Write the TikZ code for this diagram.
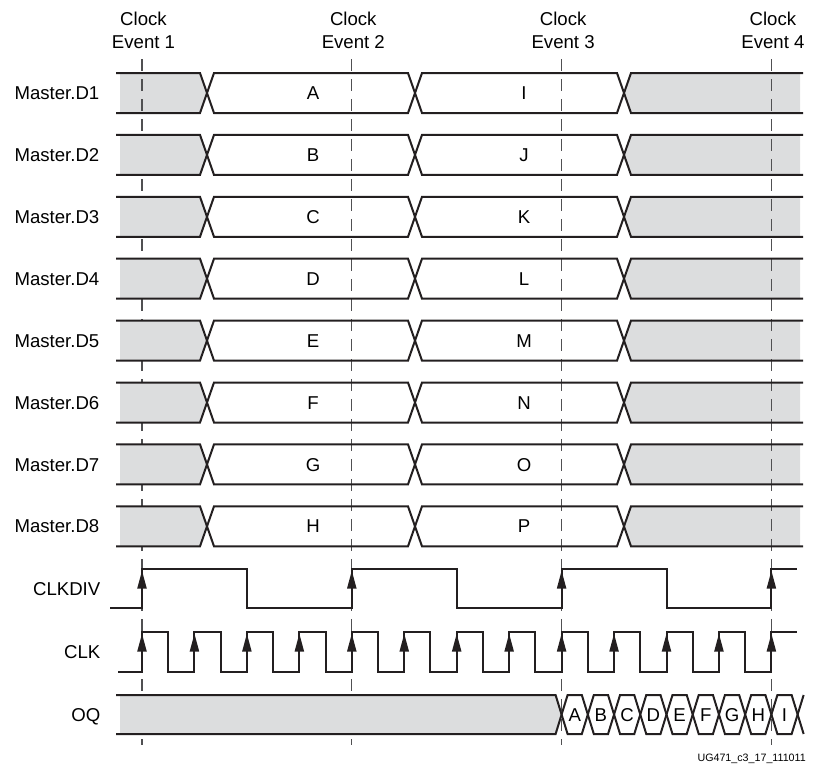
\documentclass[tikz,border=0pt]{standalone}
\usepackage{fontspec}
\setmainfont{Liberation Sans}
\usepackage{tikz}
\usetikzlibrary{arrows.meta}
\definecolor{ink}{HTML}{231F20}
\definecolor{idle}{HTML}{DCDDDE}
\definecolor{guide}{HTML}{505052}
\tikzstyle{wave}      = [line width=2pt, draw=ink]
\tikzstyle{eventline} = [line width=1.2pt, draw=guide, dash pattern=on 12pt off 8pt]
\tikzstyle{edgearrow} = [-{Triangle[length=18pt,width=9pt]}, line width=2pt, draw=ink]
\tikzstyle{signame}   = [anchor=base east, inner sep=0pt]
\tikzstyle{value}     = [anchor=base, inner sep=0pt]

\begin{document}
\begin{tikzpicture}[x=1pt, y=-1pt, font=\fontsize{18.6}{22}\selectfont]

  \useasboundingbox (0,0) rectangle (820,780);

  %% idle parts that sit under the event lines
  \foreach \r in {1,...,8} {
    \pgfmathsetmacro{\yc}{93+(\r-1)*61.9}
    \pgfmathsetmacro{\yt}{\yc-20}
    \pgfmathsetmacro{\yb}{\yc+20}
    \fill[idle] (800,\yt) -- (631,\yt) -- (624,\yc) -- (631,\yb) -- (800,\yb) -- cycle;
  }
  \fill[idle] (120,73) -- (200,73) -- (207,93) -- (200,113) -- (120,113) -- cycle;

  %% clock events
  \foreach \e in {1,...,4} {
    \pgfmathsetmacro{\ex}{142+(\e-1)*209.8}
    \node[value] (clk\e) at (\ex+1.5,25) {Clock};
    \node[value] (ev\e) at (\ex+1.5,48.4) {Event \e};
    \coordinate (evtop\e) at (\ex,59);
    \coordinate (evbot\e) at (\ex,745);
    \draw[eventline] (evtop\e) -- (evbot\e);
  }

  %% idle parts that hide the event lines
  \foreach \r in {2,...,8} {
    \pgfmathsetmacro{\yc}{93+(\r-1)*61.9}
    \fill[idle] (120,\yc-20) -- (200,\yc-20) -- (207,\yc) -- (200,\yc+20) -- (120,\yc+20) -- cycle;
  }
  \fill[idle] (120,695) -- (555.6,695) -- (561.6,714.5) -- (555.6,734) -- (120,734) -- cycle;

  %% Master.D1 .. Master.D8 buses
  \foreach \r/\first/\second in {1/A/I,2/B/J,3/C/K,4/D/L,5/E/M,6/F/N,7/G/O,8/H/P} {
    \pgfmathsetmacro{\yc}{93+(\r-1)*61.9}
    \pgfmathsetmacro{\yt}{\yc-20}
    \pgfmathsetmacro{\yb}{\yc+20}
    \node[signame] (sig\r) at (99.5,\yc+6.6) {Master.D\r};
    \draw[wave] (116,\yt) -- (200,\yt) -- (214,\yb) -- (408,\yb) -- (422,\yt)
                -- (617,\yt) -- (631,\yb) -- (803,\yb);
    \draw[wave] (116,\yb) -- (200,\yb) -- (214,\yt) -- (408,\yt) -- (422,\yb)
                -- (617,\yb) -- (631,\yt) -- (803,\yt);
    \node[value] (dA\r) at (313,\yc+6.6) {\first};
    \node[value] (dB\r) at (524,\yc+6.6) {\second};
  }

  %% CLKDIV
  \node[signame] (clkdiv) at (100.5,595.1) {CLKDIV};
  \draw[wave] (110,608) \foreach \k in {0,1,2} {
      -- ({142+209.8*\k},608) -- ++(0,-39) -- ++(104.9,0) -- ++(0,39) }
    -- (771.4,608) -- (771.4,569) -- (797,569);
  \foreach \k in {0,...,3}
    \draw[edgearrow] ({142+209.8*\k},608) -- ({142+209.8*\k},570.5);

  %% CLK
  \node[signame] (clk) at (100.5,658.6) {CLK};
  \draw[wave] (118,672) \foreach \k in {0,...,11} {
      -- ({142+52.45*\k},672) -- ++(0,-40) -- ++(26.225,0) -- ++(0,40) }
    -- (771.4,672) -- (771.4,632) -- (797,632);
  \foreach \k in {0,...,12}
    \draw[edgearrow] ({142+52.45*\k},672) -- ({142+52.45*\k},633.5);

  %% OQ
  \node[signame] (oq) at (100.5,721.1) {OQ};
  \draw[wave] (116,695) \foreach \k in {0,2,4,6,8} {
      -- ({561.6+26.225*\k-6},695) -- ({561.6+26.225*\k+6},734)
      -- ({561.6+26.225*(\k+1)-6},734) -- ({561.6+26.225*(\k+1)+6},695) };
  \draw[wave] (116,734) \foreach \k in {0,2,4,6,8} {
      -- ({561.6+26.225*\k-6},734) -- ({561.6+26.225*\k+6},695)
      -- ({561.6+26.225*(\k+1)-6},695) -- ({561.6+26.225*(\k+1)+6},734) };
  \foreach \v [count=\k from 0] in {A,...,I}
    \node[value] (oq\v) at ({561.6+26.225*(\k+0.5)},721.1) {\v};

  \node[anchor=base east, inner sep=0pt, font=\fontsize{10.7}{12}\selectfont]
    (figid) at (806,761.7) {UG471\_c3\_17\_111011};

\end{tikzpicture}
\end{document}
